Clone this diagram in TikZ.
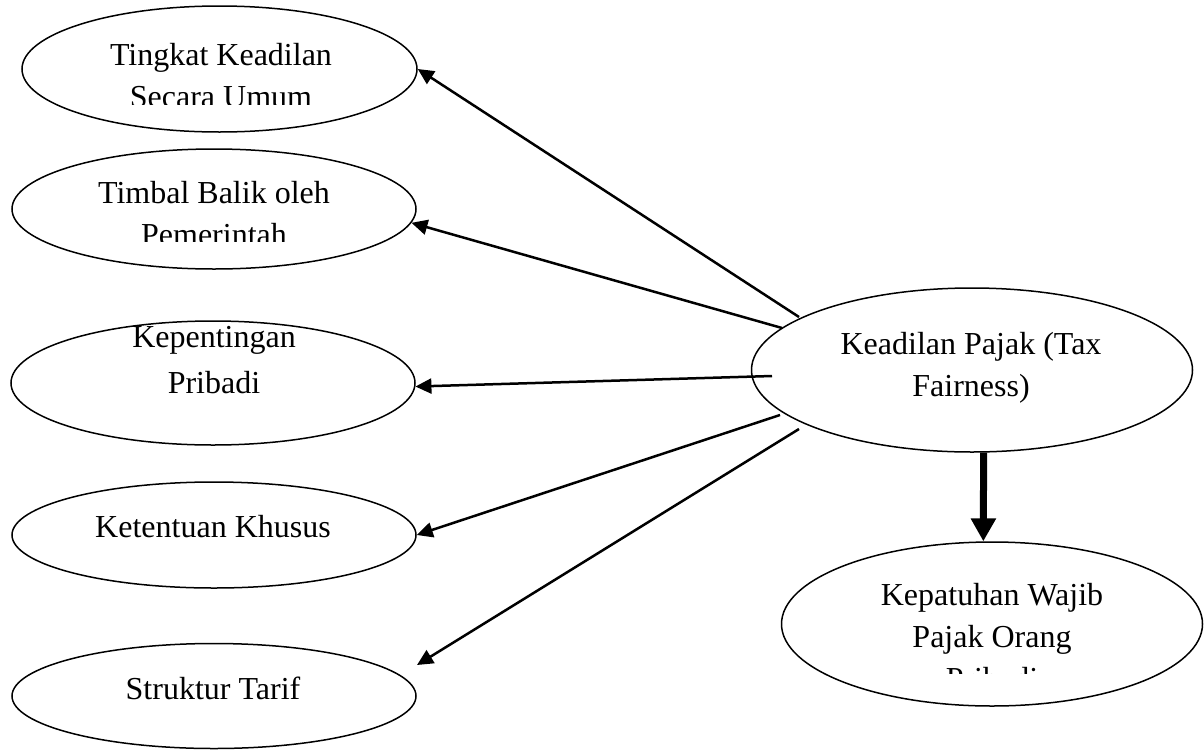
\documentclass[tikz,border=0pt]{standalone}
\usepackage{fontspec}
\setmainfont{Liberation Serif}
\usetikzlibrary{shapes.geometric,arrows.meta}
\begin{document}
\begin{tikzpicture}[x=1pt,y=-1pt,
  oval/.style={ellipse,draw,line width=1.5pt,inner sep=0pt},
  lbl/.style={anchor=base,inner sep=0pt,font=\fontsize{32}{40}\selectfont},
  link/.style={line width=2.5pt,-{Triangle[length=16pt,width=15pt]}},
  boldlink/.style={line width=7pt,-{Triangle[length=23pt,width=24pt]}}]
\path[use as bounding box,fill=white] (0,0) rectangle (1204,750);

% ellipses
\node[oval,minimum width=395pt,minimum height=126pt] (t1) at (219.5,69) {};
\node[oval,minimum width=404pt,minimum height=120pt] (t2) at (214,209) {};
\node[oval,minimum width=404pt,minimum height=124pt] (t3) at (213,383) {};
\node[oval,minimum width=404pt,minimum height=106pt] (t4) at (214,535) {};
\node[oval,minimum width=404pt,minimum height=105pt] (t5) at (214,696) {};
\node[oval,minimum width=441pt,minimum height=164pt] (c) at (972,370) {};
\node[oval,minimum width=421pt,minimum height=164pt] (k) at (992,624) {};

% texts
\begin{scope}
\clip (60,20) rectangle (380,104);
\node[lbl] (t1a) at (221,65) {Tingkat Keadilan};
\node[lbl] (t1b) at (221,107) {Secara Umum};
\end{scope}
\begin{scope}
\clip (60,160) rectangle (380,241);
\node[lbl] (t2a) at (214,203) {Timbal Balik oleh};
\node[lbl] (t2b) at (214,245) {Pemerintah};
\end{scope}
\node[lbl] (t3a) at (214,347) {Kepentingan};
\node[lbl] (t3b) at (214,393) {Pribadi};
\node[lbl] (t4a) at (213,537) {Ketentuan Khusus};
\node[lbl] (t5a) at (213,699) {Struktur Tarif};
\node[lbl] (ca) at (971,354) {Keadilan Pajak (Tax};
\node[lbl] (cb) at (971,396) {Fairness)};
\begin{scope}
\clip (820,560) rectangle (1160,673);
\node[lbl] (ka) at (992,605) {Kepatuhan Wajib};
\node[lbl] (kb) at (992,647) {Pajak Orang};
\node[lbl] (kc) at (992,689) {Pribadi};
\end{scope}

% free start points of the connectors
\coordinate (s1) at (799,317);
\coordinate (s2) at (782,328);
\coordinate (s3) at (772,376);
\coordinate (s4) at (780,415);
\coordinate (s5) at (799,429);
\coordinate (e5) at (417,665);

\draw[link] (s1) -- (t1.east);
\draw[link] (s2) -- (t2.-4);
\draw[link] (s3) -- (t3.-1);
\draw[link] (s4) -- (t4.east);
\draw[link] (s5) -- (e5);
\draw[boldlink] (c.-82.4) -- (k.96.3);
\end{tikzpicture}
\end{document}
